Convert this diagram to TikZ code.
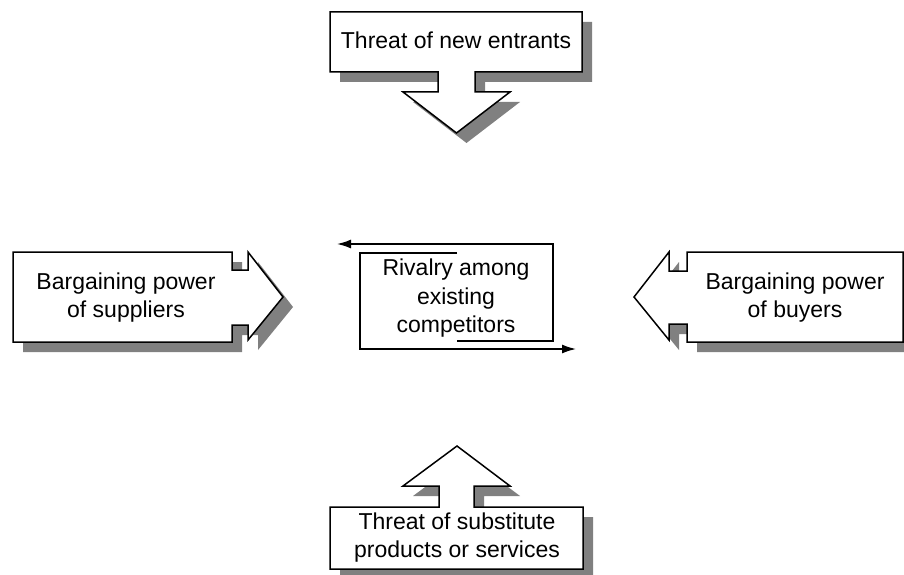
\documentclass[tikz,border=0pt]{standalone}
\usepackage{fontspec}
\setmainfont{Liberation Sans}
\usetikzlibrary{arrows.meta}
\definecolor{shadowgray}{HTML}{808080}
\tikzset{
  shapeline/.style={draw=black, fill=white, line width=1.5pt, line join=miter},
  shadowfill/.style={fill=shadowgray},
  txt/.style={align=center, inner sep=0pt, font=\fontsize{23}{28.5}\selectfont},
  cycleline/.style={draw=black, line width=1.5pt, -{Latex[length=14pt,width=9pt]}},
}
\newcommand\blockarrow[1]{\fill[shadowfill, shift={(10,10)}] #1; \filldraw[shapeline] #1;}
\begin{document}
\begin{tikzpicture}[x=1pt,y=-1pt]
\useasboundingbox (0,0) rectangle (904,575);
\clip (0,0) rectangle (904,575);
% top: threat of new entrants
\blockarrow{(330,12) -- (582,12) -- (582,72) -- (475,72) -- (475,92) -- (510,92) -- (456.5,133) -- (403,92) -- (438,92) -- (438,72) -- (330,72) -- cycle}
% left: suppliers
\blockarrow{(13,252) -- (232,252) -- (232,270) -- (248,270) -- (248,252) -- (283,297) -- (248,340) -- (248,325) -- (232,325) -- (232,342) -- (13,342) -- cycle}
% right: buyers
\blockarrow{(903,252) -- (687,252) -- (687,271) -- (669,271) -- (669,252) -- (634,297) -- (669,340) -- (669,324) -- (687,324) -- (687,342) -- (903,342) -- cycle}
% bottom: substitutes
\blockarrow{(330,569) -- (583,569) -- (583,507) -- (474,507) -- (474,486) -- (510,486) -- (457,446) -- (403,486) -- (439,486) -- (439,507) -- (330,507) -- cycle}
% center rivalry brackets
\coordinate (a1) at (457,253);
\coordinate (a2) at (360,253);
\coordinate (a3) at (360,349);
\coordinate (a4) at (576,349);
\coordinate (b1) at (457,341);
\coordinate (b2) at (553,341);
\coordinate (b3) at (553,244);
\coordinate (b4) at (337,244);
\draw[cycleline] (a1) -- (a2) -- (a3) -- (a4);
\draw[cycleline] (b1) -- (b2) -- (b3) -- (b4);
% texts
\node[txt] (entrants) at (456,40) {Threat of new entrants};
\node[txt] (suppliers) at (126,297.5) {Bargaining power\\of suppliers};
\node[txt] (buyers) at (795,297.5) {Bargaining power\\of buyers};
\node[txt] (rivalry) at (456,298.5) {Rivalry among\\existing\\competitors};
\node[txt] (substitutes) at (457,537.5) {Threat of substitute\\products or services};
\end{tikzpicture}
\end{document}
